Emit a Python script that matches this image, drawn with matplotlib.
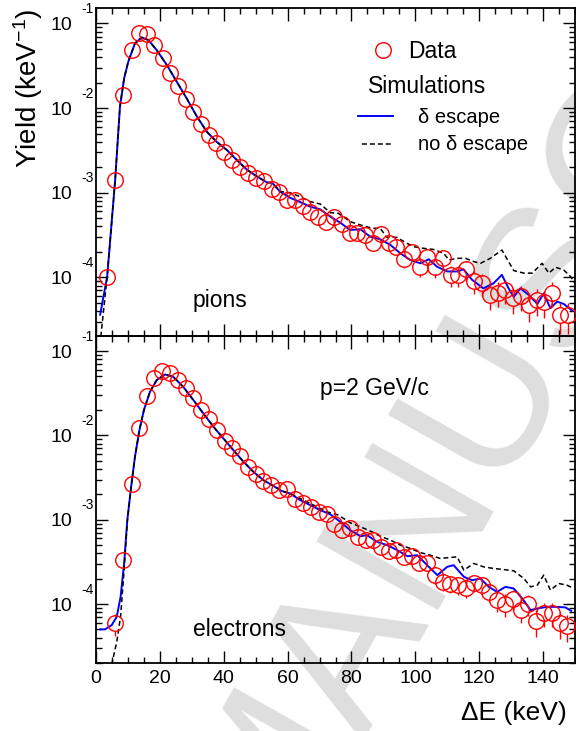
import numpy as np
import matplotlib
matplotlib.use('Agg')
import matplotlib.pyplot as plt
import matplotlib.transforms as mtransforms
from matplotlib.lines import Line2D
from matplotlib.ticker import LogLocator, MultipleLocator, NullFormatter, FuncFormatter

plt.rcParams['font.family'] = ['Liberation Sans', 'DejaVu Sans']
plt.rcParams['mathtext.fontset'] = 'custom'
plt.rcParams['mathtext.rm'] = 'Liberation Sans'
plt.rcParams['mathtext.it'] = 'Liberation Sans:italic'
plt.rcParams['mathtext.default'] = 'regular'

# ---------------- data ----------------
# pions: measured points, energy loss (keV) and yield (keV^-1)
pion_x = [3.4, 6.0, 8.6, 11.2, 13.6, 15.9, 18.3, 20.9, 23.2, 25.8,
          28.3, 30.5, 32.9, 35.4, 37.7, 40.2, 42.6, 45.0, 47.5, 50.1,
          52.6, 55.0, 57.4, 59.8, 62.3, 64.7, 67.1, 69.6, 72.0, 74.4,
          76.9, 79.4, 81.8, 84.3, 86.7, 89.1, 91.6, 94.0, 96.5, 98.9,
          101.4, 103.8, 106.2, 108.7, 111.1, 113.5, 116.0, 118.4, 120.8, 123.3,
          125.8, 128.2, 130.7, 133.1, 135.5, 138.0, 140.4, 142.8, 145.3, 147.7]
pion_y = [1.02e-4, 1.41e-3, 1.43e-2, 4.84e-2, 7.62e-2, 7.41e-2, 5.55e-2, 3.86e-2, 2.61e-2, 1.82e-2,
          1.27e-2, 8.9e-3, 6.46e-3, 4.79e-3, 3.89e-3, 3.05e-3, 2.45e-3, 2.04e-3, 1.72e-3, 1.50e-3,
          1.36e-3, 1.10e-3, 1.01e-3, 8.1e-4, 8.1e-4, 6.97e-4, 5.97e-4, 5.21e-4, 4.55e-4, 5.13e-4,
          4.27e-4, 3.31e-4, 3.31e-4, 3.16e-4, 2.53e-4, 3.24e-4, 2.53e-4, 2.30e-4, 1.64e-4, 2.01e-4,
          1.34e-4, 1.73e-4, 1.34e-4, 1.68e-4, 1.07e-4, 1.07e-4, 1.24e-4, 9.1e-5, 8.5e-5, 6.2e-5,
          6.6e-5, 7.1e-5, 5.66e-5, 6.0e-5, 4.72e-5, 5.41e-5, 5.16e-5, 6.6e-5, 3.6e-5, 3.6e-5]
pion_relerr = [0.05, 0.05, 0.05, 0.05, 0.05, 0.05, 0.05, 0.05, 0.05, 0.05,
               0.05, 0.05, 0.05, 0.05, 0.05, 0.05, 0.05, 0.05, 0.05, 0.05,
               0.08, 0.08, 0.08, 0.08, 0.1, 0.1, 0.1, 0.1, 0.1, 0.1,
               0.12, 0.12, 0.12, 0.12, 0.12, 0.12, 0.12, 0.18, 0.22, 0.2,
               0.25, 0.22, 0.26, 0.24, 0.28, 0.28, 0.27, 0.3, 0.3, 0.33,
               0.33, 0.32, 0.34, 0.33, 0.37, 0.35, 0.35, 0.32, 0.4, 0.4]

# pions: simulations, log10(yield)
pion_sim_x = [1.3, 3.5, 6.0, 7.5, 8.8, 10.1, 12.2, 14.3, 16.4, 19.0,
              22.2, 25.3, 28.4, 31.6, 34.7, 37.8, 41.0, 44.1, 47.3, 50.5,
              53.6, 55.1, 57.7, 60.8, 63.9, 67.1, 70.2, 73.4, 76.5, 79.6,
              82.8, 85.9, 89.0, 92.2, 95.3, 98.4, 101.6, 104.2, 106.8, 110.0,
              113.1, 115.1, 117.8, 121.3, 124.5, 127.1, 129.2, 130.8, 132.9, 135.5,
              138.2, 140.2, 142.3, 144.4, 146.5, 149.1]
pion_esc_log = [-4.44, -3.99, -2.85, -1.985, -1.65, -1.453, -1.236, -1.165, -1.197, -1.315,
                -1.492, -1.69, -1.886, -2.10, -2.28, -2.40, -2.496, -2.614, -2.73, -2.81,
                -2.88, -2.88, -2.99, -3.06, -3.11, -3.165, -3.196, -3.283, -3.354, -3.44,
                -3.432, -3.52, -3.55, -3.617, -3.716, -3.794, -3.834, -3.786, -3.874, -3.93,
                -3.93, -3.905, -4.03, -4.13, -4.07, -3.97, -4.13, -4.23, -4.13, -4.207,
                -4.314, -4.19, -4.365, -4.287, -4.314, -4.393]
pion_noesc_x = [1.5, 3.5, 6.0, 7.5, 8.8, 10.1, 12.2, 14.3, 16.4, 19.0,
                22.2, 25.3, 28.4, 31.6, 34.7, 37.8, 41.0, 44.1, 47.3, 50.5,
                53.6, 55.1, 57.7, 60.8, 63.9, 67.1, 70.2, 73.4, 75.9, 79.6,
                82.8, 86.4, 89.0, 91.1, 94.2, 97.0, 99.5, 102.6, 105.7, 108.9,
                110.5, 113.1, 115.7, 118.3, 120.4, 123.5, 127.1, 129.8, 130.8, 134.0,
                136.6, 139.7, 141.8, 143.9, 146.5, 148.6, 150.0]
pion_noesc_log = [-4.70, -3.99, -2.85, -1.985, -1.65, -1.453, -1.236, -1.165, -1.197, -1.315,
                  -1.492, -1.69, -1.886, -2.10, -2.28, -2.40, -2.496, -2.614, -2.73, -2.81,
                  -2.88, -2.88, -2.985, -3.0, -3.047, -3.106, -3.133, -3.236, -3.243, -3.342,
                  -3.381, -3.42, -3.42, -3.527, -3.527, -3.59, -3.638, -3.657, -3.67, -3.716,
                  -3.794, -3.775, -3.775, -3.814, -3.834, -3.775, -3.677, -3.853, -3.92, -3.95,
                  -3.95, -3.834, -3.95, -3.88, -3.913, -3.99, -4.07]

# electrons: measured points
elec_x = [6.0, 8.6, 11.2, 13.6, 16.1, 18.3, 20.8, 23.3, 25.8,
          28.2, 30.5, 32.9, 35.4, 37.8, 40.3, 42.7, 45.0, 47.5, 50.0,
          52.4, 54.9, 57.4, 59.8, 62.3, 64.8, 67.3, 69.8, 72.2, 74.6,
          77.0, 79.5, 82.0, 84.4, 86.8, 89.2, 91.6, 94.0, 96.4, 98.8,
          101.3, 103.7, 106.1, 108.6, 111.0, 113.5, 115.9, 118.3, 120.8, 123.2,
          125.7, 128.2, 130.6, 133.0, 135.4, 137.9, 140.3, 142.8, 145.2, 147.6]
elec_y = [5.9e-5, 3.32e-4, 2.62e-3, 1.21e-2, 2.95e-2, 4.74e-2, 5.85e-2, 5.43e-2, 4.53e-2,
          3.61e-2, 2.75e-2, 2.0e-2, 1.55e-2, 1.16e-2, 8.63e-3, 7.01e-3, 5.68e-3, 4.25e-3, 3.48e-3,
          2.9e-3, 2.57e-3, 2.24e-3, 2.29e-3, 1.75e-3, 1.58e-3, 1.42e-3, 1.24e-3, 1.16e-3, 9.0e-4,
          7.5e-4, 7.9e-4, 6.3e-4, 5.8e-4, 5.7e-4, 4.8e-4, 4.25e-4, 4.4e-4, 3.6e-4, 3.7e-4,
          3.03e-4, 3.03e-4, 2.2e-4, 1.83e-4, 1.75e-4, 1.67e-4, 1.57e-4, 1.78e-4, 1.67e-4, 1.40e-4,
          1.11e-4, 1.0e-4, 1.16e-4, 8.6e-5, 1.0e-4, 6.3e-5, 7.9e-5, 7.9e-5, 5.9e-5, 5.5e-5]
elec_relerr = [0.3, 0.05, 0.05, 0.05, 0.05, 0.05, 0.05, 0.05, 0.05,
               0.05, 0.05, 0.05, 0.05, 0.05, 0.05, 0.05, 0.05, 0.05, 0.05,
               0.06, 0.06, 0.06, 0.06, 0.08, 0.08, 0.08, 0.08, 0.08, 0.1,
               0.1, 0.1, 0.1, 0.1, 0.12, 0.12, 0.12, 0.12, 0.12, 0.12,
               0.12, 0.18, 0.22, 0.22, 0.22, 0.24, 0.25, 0.22, 0.24, 0.25,
               0.28, 0.3, 0.27, 0.3, 0.28, 0.35, 0.32, 0.32, 0.35, 0.36]

# electrons: simulations, log10(yield)
elec_esc_x = [1.3, 2.8, 4.9, 6.5, 7.7, 8.8, 9.8, 11.0, 12.2, 13.6,
              15.0, 16.9, 19.0, 21.6, 24.2, 27.3, 30.5, 33.6, 36.8, 39.9,
              43.0, 46.2, 49.3, 52.4, 55.6, 58.2, 60.8, 63.9, 67.1, 70.2,
              73.4, 76.5, 79.6, 82.8, 84.9, 88.0, 91.2, 94.3, 97.5, 100.6,
              103.7, 106.9, 110.0, 112.0, 115.2, 117.8, 120.4, 123.0, 125.6, 128.2,
              130.8, 133.5, 136.1, 138.2, 141.3, 144.4, 147.0, 148.8]
elec_esc_log = [-4.30, -4.30, -4.25, -4.15, -3.915, -3.52, -3.005, -2.61, -2.254, -1.937,
                -1.70, -1.483, -1.344, -1.277, -1.305, -1.423, -1.581, -1.739, -1.898, -2.036,
                -2.174, -2.313, -2.432, -2.53, -2.60, -2.66, -2.688, -2.767, -2.827, -2.886,
                -2.937, -3.025, -3.123, -3.195, -3.183, -3.262, -3.301, -3.36, -3.432, -3.42,
                -3.539, -3.657, -3.558, -3.539, -3.677, -3.717, -3.697, -3.796, -3.855, -3.796,
                -3.815, -3.934, -4.072, -4.052, -4.033, -4.033, -4.04, -4.08]
elec_noesc_x = [4.9, 6.5, 7.7, 8.8, 9.8, 11.0, 12.2, 13.6, 15.0, 16.9,
                19.0, 21.6, 24.2, 27.3, 30.5, 33.6, 36.8, 39.9, 43.0, 46.2,
                49.3, 52.4, 55.6, 58.2, 60.8, 63.9, 67.1, 70.2, 72.3, 75.9,
                79.6, 82.8, 86.4, 89.0, 92.2, 95.3, 98.4, 101.6, 104.7, 107.8,
                111.0, 113.1, 115.2, 118.3, 121.3, 124.5, 127.6, 130.8, 134.0, 136.1,
                138.2, 140.2, 142.3, 144.9, 147.5, 149.6]
elec_noesc_log = [-4.72, -4.448, -4.15, -3.6, -3.02, -2.61, -2.254, -1.937, -1.70, -1.483,
                  -1.344, -1.277, -1.305, -1.423, -1.581, -1.739, -1.898, -2.036, -2.174, -2.313,
                  -2.432, -2.53, -2.60, -2.66, -2.688, -2.747, -2.807, -2.866, -2.906, -2.945,
                  -3.036, -3.084, -3.143, -3.195, -3.242, -3.301, -3.34, -3.39, -3.42, -3.459,
                  -3.447, -3.44, -3.598, -3.518, -3.558, -3.578, -3.59, -3.606, -3.697, -3.796,
                  -3.776, -3.657, -3.835, -3.756, -3.776, -3.815]

decades = [-1, -2, -3, -4]

# ---------------- figure ----------------
W, H = 576, 731
fig = plt.figure(figsize=(W / 100, H / 100), dpi=100)


def px_box(left, top, right, bottom):
    return [left / W, 1 - bottom / H, (right - left) / W, (bottom - top) / H]


ax_top = fig.add_axes(px_box(96, 8, 575, 336))
ax_bot = fig.add_axes(px_box(96, 336, 575, 663))

# watermark behind everything
fig.text(0.473, -0.195, 'MANUSCRIPT', rotation=60.5, rotation_mode='anchor',
         ha='left', va='baseline', fontsize=146, color='#dedede', zorder=-5)


def style_axes(ax, ylim, xlabels):
    ax.set_facecolor('none')
    ax.set_xlim(0, 150)
    ax.set_yscale('log')
    ax.set_ylim(*ylim)
    ax.xaxis.set_major_locator(MultipleLocator(20))
    ax.xaxis.set_minor_locator(MultipleLocator(5))
    ax.yaxis.set_major_locator(LogLocator(base=10, numticks=12))
    ax.yaxis.set_minor_locator(LogLocator(base=10, subs=np.arange(2, 10), numticks=12))
    ax.yaxis.set_minor_formatter(NullFormatter())
    ax.yaxis.set_major_formatter(FuncFormatter(lambda v, p: '10'))
    ax.tick_params(which='both', direction='in', top=True, right=True, width=1.0)
    ax.tick_params(axis='x', which='major', length=9, labelsize=14, pad=5)
    ax.tick_params(axis='x', which='minor', length=4.5)
    ax.tick_params(axis='y', which='major', length=8.5, labelsize=14, pad=17)
    ax.tick_params(axis='y', which='minor', length=4.3)
    if not xlabels:
        ax.tick_params(axis='x', labelbottom=False)
    for sp in ax.spines.values():
        sp.set_linewidth(1.3)
    # exponents of the "10" labels, ROOT style
    trans = (mtransforms.blended_transform_factory(ax.transAxes, ax.transData)
             + mtransforms.ScaledTranslation(0, 7.4 / 72, fig.dpi_scale_trans))
    for e in decades:
        ax.text(-0.005, 10.0 ** e, '-%d' % abs(e), transform=trans, ha='right',
                va='baseline', fontsize=10, clip_on=False)


def draw_data(ax, x, y, relerr):
    x = np.array(x)
    y = np.array(y)
    e = np.array(relerr)
    r = 10 ** (7.8 / 84.5)  # marker radius as a factor in y
    lo, hi = y * (1 - e), y * (1 + e)
    m = lo < y / r
    ax.vlines(x[m], lo[m], (y / r)[m], colors='red', lw=1.0, zorder=4)
    m = hi > y * r
    ax.vlines(x[m], (y * r)[m], hi[m], colors='red', lw=1.0, zorder=4)
    ax.plot(x, y, 'o', mfc='none', mec='red', ms=11.2, mew=1.0, zorder=5)


def draw_sims(ax, xe, le, xn, ln):
    ax.plot(xe, np.power(10.0, le), color='#0000ff', lw=1.4, zorder=2)
    ax.plot(xn, np.power(10.0, ln), color='black', lw=1.1, ls=(0, (3.2, 2.0)), zorder=3)


style_axes(ax_top, (2.03e-5, 0.152), False)
style_axes(ax_bot, (2.0e-5, 0.151), True)

draw_sims(ax_top, pion_sim_x, pion_esc_log, pion_noesc_x, pion_noesc_log)
draw_data(ax_top, pion_x, pion_y, pion_relerr)
draw_sims(ax_bot, elec_esc_x, elec_esc_log, elec_noesc_x, elec_noesc_log)
draw_data(ax_bot, elec_x, elec_y, elec_relerr)

# labels
ax_top.text(0.2025, 0.088, 'pions', transform=ax_top.transAxes, fontsize=16.5, va='baseline')
ax_bot.text(0.2025, 0.0826, 'electrons', transform=ax_bot.transAxes, fontsize=16.5, va='baseline')
ax_bot.text(0.4676, 0.8196, 'p=2 GeV/c', transform=ax_bot.transAxes, fontsize=16.5, va='baseline')

fig.text(28 / W, 1 - 88 / H, r'Yield (keV$^{-1}$)', rotation=90, ha='center', va='center', fontsize=20)
fig.text(567 / W, 1 - 720 / H, 'ΔE (keV)', ha='right', va='baseline', fontsize=19)

# legend, drawn by hand like the original
ax_top.add_line(Line2D([0.599], [0.872], transform=ax_top.transAxes, marker='o', mfc='none',
                       mec='red', ms=11.2, mew=1.0, ls='none'))
ax_top.text(0.651, 0.8476, 'Data', transform=ax_top.transAxes, fontsize=16.5, va='baseline')
ax_top.text(0.568, 0.741, 'Simulations', transform=ax_top.transAxes, fontsize=16.5, va='baseline')
ax_top.add_line(Line2D([0.547, 0.620], [0.671, 0.671], transform=ax_top.transAxes,
                       color='#0000ff', lw=1.4))
ax_top.text(0.672, 0.649, 'δ escape', transform=ax_top.transAxes, fontsize=14.5, va='baseline')
ax_top.add_line(Line2D([0.555, 0.620], [0.585, 0.585], transform=ax_top.transAxes,
                       color='black', lw=1.1, ls=(0, (3.2, 2.0))))
ax_top.text(0.672, 0.567, 'no δ escape', transform=ax_top.transAxes, fontsize=14.5, va='baseline')

fig.savefig('out.png', dpi=100)
